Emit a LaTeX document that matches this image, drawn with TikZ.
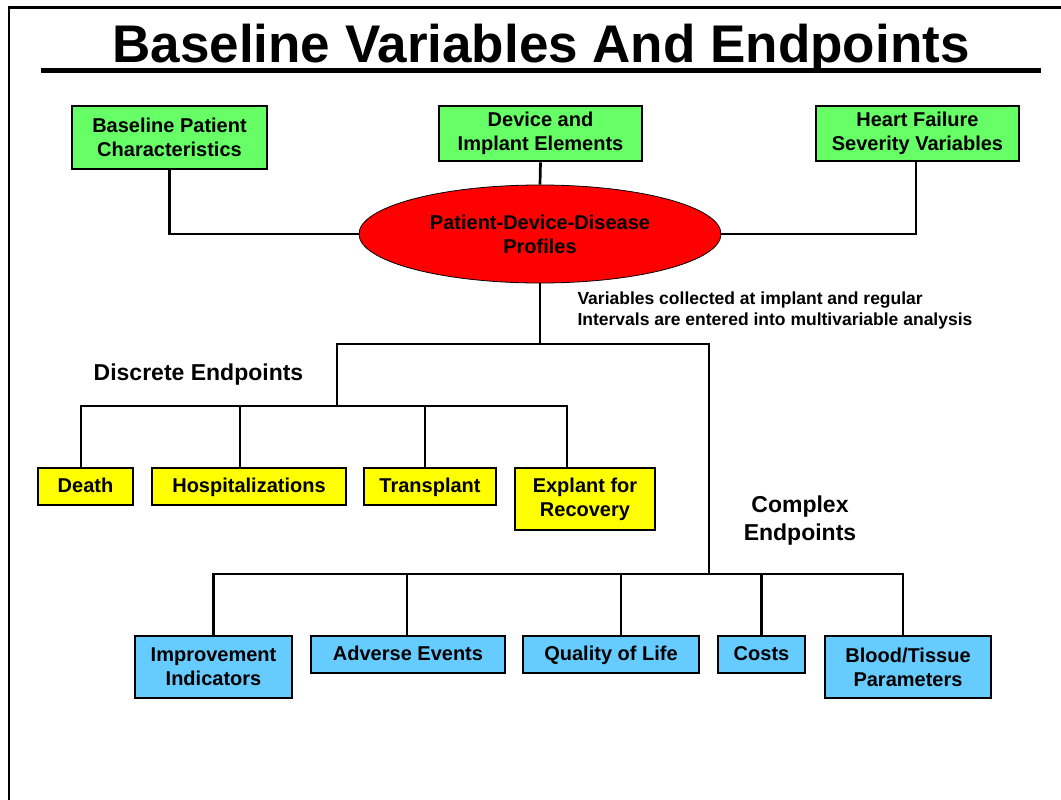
\documentclass[tikz,border=0pt]{standalone}
\usepackage{fontspec}
\setmainfont{Liberation Sans}
\usepackage{tikz}
\usetikzlibrary{calc}
\usetikzlibrary{shapes.geometric}
\usetikzlibrary{positioning}

\definecolor{boxgreen}{RGB}{102,255,102}
\definecolor{boxyellow}{RGB}{255,255,0}
\definecolor{boxblue}{RGB}{102,204,255}

\begin{document}
\begin{tikzpicture}[x=1pt,y=-1pt,
    every node/.style={font=\bfseries\fontsize{20}{24}\selectfont, align=center},
    endbox/.style={draw, line width=2.7pt, inner sep=0pt, minimum height=37pt},
    oneline/.style={text height=14.5pt, text depth=3pt},
    greenbox/.style={endbox, fill=boxgreen},
    yellowbox/.style={endbox, fill=boxyellow},
    bluebox/.style={endbox, fill=boxblue},
    link/.style={line width=2.7pt}]
  \useasboundingbox (0,0) rectangle (1061,800);
  \draw[line width=2.5pt] (1061,7.5) -| (9,800);
  \node[anchor=base, font=\bfseries\fontsize{53}{60}\selectfont] (title) at (541,63) {Baseline Variables And Endpoints};
  \draw[line width=4.5pt] (41,70.5) -- (1041,70.5);

  % baseline groups
  \node[greenbox, minimum width=195pt, minimum height=63pt] (bpc) at (169.5,137.5) {Baseline Patient\\Characteristics};
  \node[greenbox, minimum width=203pt, minimum height=55pt] (die) at (540.5,133.5) {Device and\\Implant Elements};
  \node[greenbox, minimum width=203pt, minimum height=55pt] (hfs) at (917.5,133.5) {Heart Failure\\Severity Variables};
  \node[ellipse, draw, fill=red, line width=0.8pt, inner sep=0pt, minimum width=362pt, minimum height=98pt] (prof) at (540,234) {Patient-Device-Disease\\Profiles};
  \draw[link] (bpc.south) |- (prof.west);
  \draw[link] (die.south) -- (prof.north);
  \draw[link] ([xshift=-1.5pt]hfs.south) |- (prof.east);
  \node[anchor=west, align=left, font=\bfseries\fontsize{17.5}{21}\selectfont] (note) at (574,310) {Variables collected at implant and regular\\Intervals are entered into multivariable analysis};

  \coordinate (split) at (540,344);
  \coordinate (dbus) at (337,406);
  \coordinate (ctop) at (709,344);
  \coordinate (cbus) at (709,574);
  \draw[link] (prof.south) -- (split);
  \draw[link] (dbus) |- (ctop) -- (cbus);

  % discrete endpoints
  \node[font=\bfseries\fontsize{23}{28}\selectfont] (disc) at (198.5,375) {Discrete Endpoints};
  \node[yellowbox, oneline, minimum width=95pt] (death) at (85.5,486.5) {Death};
  \node[yellowbox, oneline, minimum width=194pt] (hosp) at (249,486.5) {Hospitalizations};
  \node[yellowbox, oneline, minimum width=132pt] (transp) at (430,486.5) {Transplant};
  \node[yellowbox, minimum width=140pt, minimum height=62pt] (explant) at (585,499) {Explant for\\Recovery};
  \draw[link] ([xshift=-4.5pt]death.north) |- (dbus);
  \draw[link] ([xshift=-9pt]hosp.north) |- (dbus);
  \draw[link] ([xshift=-5pt]transp.north) |- (dbus);
  \draw[link] ([xshift=-18pt]explant.north) |- (dbus);

  % complex endpoints
  \node[font=\bfseries\fontsize{23}{28}\selectfont] (cplx) at (800,521) {Complex\\Endpoints};
  \node[bluebox, minimum width=157pt, minimum height=62pt] (impr) at (213.5,667) {Improvement\\Indicators};
  \node[bluebox, oneline, minimum width=194pt] (adv) at (408,654.5) {Adverse Events};
  \node[bluebox, oneline, minimum width=176pt] (qol) at (611,654.5) {Quality of Life};
  \node[bluebox, oneline, minimum width=87pt] (costs) at (761.5,654.5) {Costs};
  \node[bluebox, minimum width=166pt, minimum height=62pt] (blood) at (908,667) {Blood/Tissue\\Parameters};
  \draw[link] (impr.north) |- (cbus);
  \draw[link] ([xshift=-1pt]adv.north) |- (cbus);
  \draw[link] ([xshift=10pt]qol.north) |- (cbus);
  \draw[link] (costs.north) |- (cbus);
  \draw[link] ([xshift=-5pt]blood.north) |- (cbus);
\end{tikzpicture}
\end{document}
